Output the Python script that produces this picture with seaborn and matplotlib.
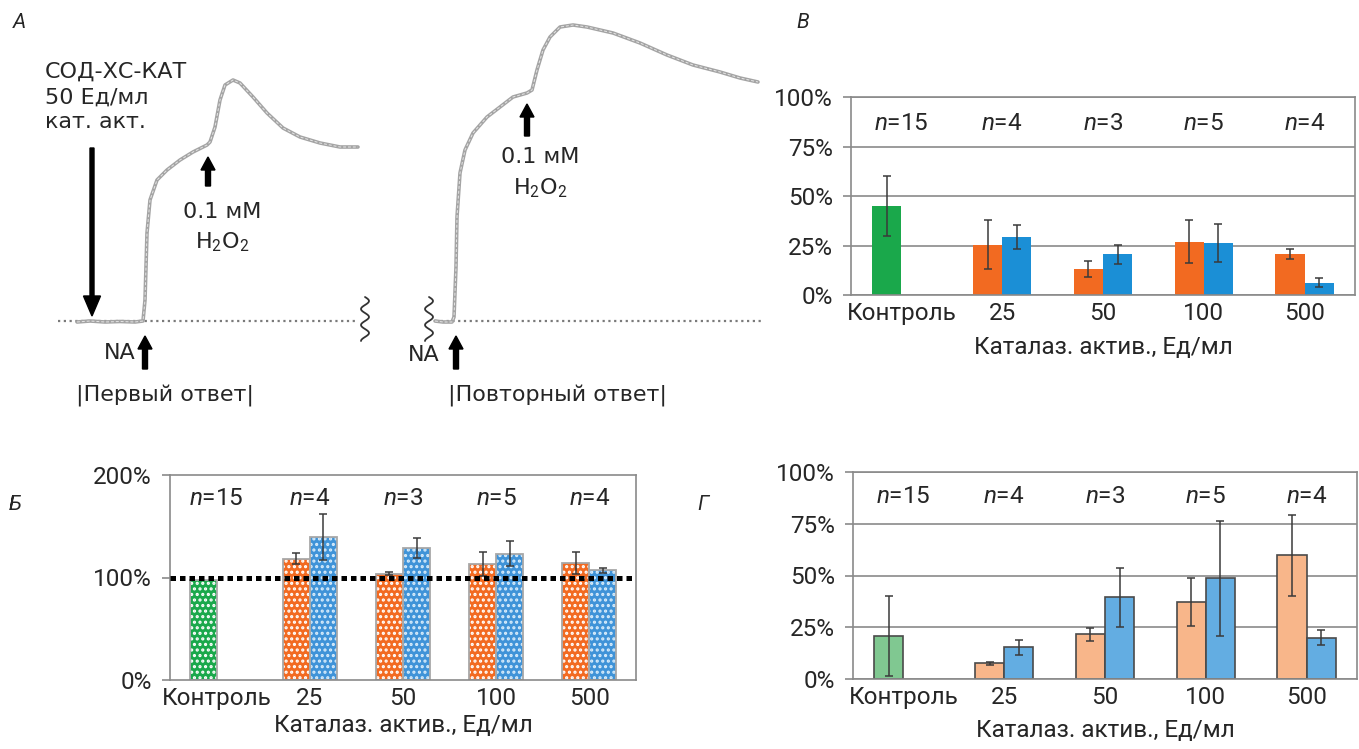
import numpy as np
import pandas as pd
import matplotlib
matplotlib.use("Agg")
import matplotlib.pyplot as plt
import seaborn as sns
from matplotlib.patches import Rectangle
from matplotlib.ticker import PercentFormatter

# ------------------------------------------------------------------ data
categories = ["Контроль", "25", "50", "100", "500"]
n_labels = ["15", "4", "3", "5", "4"]
series_names = ["first", "second"]

# panel В (top right)
v_first = [45.0, 25.5, 13.1, 26.9, 20.7]
v_first_err = [15.3, 12.3, 4.0, 10.8, 2.4]
v_second = [np.nan, 29.2, 20.7, 26.2, 6.2]
v_second_err = [np.nan, 6.0, 4.8, 9.5, 2.3]

# panel Б (bottom left)
b_first = [98.0, 118.5, 103.9, 113.0, 114.3]
b_first_err = [0.0, 5.7, 1.0, 11.4, 11.0]
b_second = [np.nan, 139.6, 128.9, 123.4, 107.0]
b_second_err = [np.nan, 22.7, 9.6, 12.5, 2.5]
b_reference = 100.0

# panel Г (bottom right)
g_first = [20.9, 7.6, 21.5, 37.3, 59.8]
g_first_err = [19.3, 0.7, 3.2, 11.6, 19.5]
g_second = [np.nan, 15.3, 39.4, 48.6, 19.9]
g_second_err = [np.nan, 3.6, 14.4, 27.8, 3.7]

# panel А traces (time, signal; arbitrary units)
trace1_t = [77, 90, 105, 120, 135, 143, 145, 146, 147, 150, 157, 167, 180, 193, 207,
            210, 215, 220, 225, 233, 240, 253, 267, 283, 300, 320, 340, 358]
trace1_v = [-1, 0, -1, -0.5, -1, 0, 21, 54, 88, 121, 141, 151, 161, 169, 176,
            179, 194, 221, 236, 241, 238, 224, 208, 193, 184, 178, 174, 174]
trace2_t = [435, 443, 452, 454, 456, 457, 460, 465, 473, 487, 500, 513, 527, 532, 537,
            543, 550, 560, 573, 587, 613, 640, 667, 693, 720, 740, 758]
trace2_v = [0, -1, -1, 4, 54, 104, 148, 171, 188, 204, 214, 224, 228, 231, 251,
            271, 284, 294, 296, 294, 288, 278, 266, 256, 249, 243, 239]
baseline1_t = [58, 358]
baseline2_t = [435, 763]

# ------------------------------------------------------------------ style
sns.set_style("white")
plt.rcParams["font.family"] = ["Roboto", "DejaVu Sans"]
plt.rcParams["mathtext.fontset"] = "custom"
plt.rcParams["mathtext.rm"] = "Roboto"
plt.rcParams["mathtext.it"] = "Roboto:italic"
plt.rcParams["mathtext.bf"] = "Roboto:bold"
plt.rcParams["hatch.linewidth"] = 1.5

W, H = 1359, 749
fig = plt.figure(figsize=(W / 100, H / 100), dpi=100)

GRAY = "#8a8a8a"
FS = 17.5

def axes_px(left, top, right, bottom):
    return fig.add_axes([left / W, 1 - bottom / H, (right - left) / W, (bottom - top) / H])

# ------------------------------------------------------------------ panel А
BASE = 321
axA = axes_px(0, 0, 790, 430)
axA.set_xlim(0, 790)
axA.set_ylim(BASE - 430, BASE)
axA.axis("off")
axA.patch.set_alpha(0)

def Y(ypx):
    return BASE - ypx

for bt in (baseline1_t, baseline2_t):
    axA.plot(bt, [0, 0], color="#7a7a7a", lw=1.6, linestyle=(0, (1, 1.6)))
for tt, vv in ((trace1_t, trace1_v), (trace2_t, trace2_v)):
    sns.lineplot(x=tt, y=vv, sort=False, estimator=None, color="#a4a4a4", lw=2.6, ax=axA)
    sns.lineplot(x=tt, y=vv, sort=False, estimator=None, color="#e6e6e6", lw=0.7,
                 linestyle=(0, (3, 2)), ax=axA)

# break marks
ys = np.linspace(297, 341, 60)
for xc in (365, 429):
    axA.plot(xc + 4 * np.sin(2 * np.pi * (ys - 297) / 16), Y(ys), color="#333333", lw=1.3)

fsA = 16
famA = ["DejaVu Sans"]
axA.text(45, Y(72), "СОД-ХС-КАТ", fontsize=fsA, ha="left", va="center", family=famA)
axA.text(45, Y(98), "50 Ед/мл", fontsize=fsA, ha="left", va="center", family=famA)
axA.text(45, Y(122), "кат. акт.", fontsize=fsA, ha="left", va="center", family=famA)
axA.arrow(92, Y(148), 0, -(316 - 148), width=4, head_width=17, head_length=20,
          length_includes_head=True, fc="k", ec="k")

def up_arrow(x, y0, y1):
    axA.arrow(x, Y(y0), 0, y0 - y1, width=5, head_width=14, head_length=13,
              length_includes_head=True, fc="k", ec="k")

up_arrow(145, 369, 336)
axA.text(120, Y(353), "NA", fontsize=fsA, ha="center", va="center", family=famA)
up_arrow(208, 186, 157)
axA.text(222, Y(212), "0.1 мМ", fontsize=fsA, ha="center", va="center", family=famA)
axA.text(222, Y(242), "H$_2$O$_2$", fontsize=fsA, ha="center", va="center", family=famA)
axA.text(165, Y(396), "|Первый ответ|", fontsize=fsA, ha="center", va="center", family=famA)

up_arrow(456, 369, 336)
axA.text(424, Y(355), "NA", fontsize=fsA, ha="center", va="center", family=famA)
up_arrow(527, 136, 104)
axA.text(540, Y(157), "0.1 мМ", fontsize=fsA, ha="center", va="center", family=famA)
axA.text(540, Y(188), "H$_2$O$_2$", fontsize=fsA, ha="center", va="center", family=famA)
axA.text(558, Y(396), "|Повторный ответ|", fontsize=fsA, ha="center", va="center", family=famA)

# ------------------------------------------------------------------ bar panels
def bar_panel(ax, first, first_err, second, second_err, colors, ctrl_color,
              ymax, yticks, n_y, grid=True, edge=None, edge_lw=0):
    df = pd.DataFrame({
        "cat": categories * 2,
        "series": [series_names[0]] * 5 + [series_names[1]] * 5,
        "value": list(first) + list(second),
    }).dropna()
    errs = {0: first_err, 1: second_err}
    sns.barplot(data=df, x="cat", y="value", hue="series", order=categories,
                hue_order=series_names, palette=colors, width=0.58, errorbar=None,
                saturation=1, legend=False, ax=ax,
                edgecolor=edge if edge else "none", linewidth=edge_lw)
    xs, hs, es = [], [], []
    for p in ax.patches:
        xc = p.get_x() + p.get_width() / 2
        idx = int(round(xc))
        side = 0 if xc < idx else 1
        if idx == 0:
            p.set_facecolor(ctrl_color)
        e = errs[side][idx]
        if e and not np.isnan(e) and e > 0:
            xs.append(xc); hs.append(p.get_height()); es.append(e)
    ax.errorbar(xs, hs, yerr=es, fmt="none", ecolor="#3a3a3a", elinewidth=1.1,
                capsize=3, capthick=1.1, zorder=6)
    ax.set_xlim(-0.5, 4.5)
    ax.set_ylim(0, ymax)
    ax.set_yticks(yticks)
    ax.yaxis.set_major_formatter(PercentFormatter(xmax=100, decimals=0))
    ax.set_xticks(range(5))
    ax.set_xticklabels(categories)
    ax.set_xticks(np.arange(-0.5, 5, 1), minor=True)
    ax.tick_params(axis="x", which="major", length=0, pad=5, labelsize=FS)
    ax.tick_params(axis="x", which="minor", length=6, width=1.2, color=GRAY, direction="out")
    ax.tick_params(axis="y", length=6, width=1.2, color=GRAY, direction="out", pad=7,
                   labelsize=FS, left=True)
    for s in ax.spines.values():
        s.set_visible(True)
        s.set_color(GRAY)
        s.set_linewidth(1.2)
    if grid:
        ax.yaxis.grid(True, color=GRAY, lw=1.2)
    ax.set_axisbelow(True)
    ax.set_ylabel("")
    for i, n in enumerate(n_labels):
        ax.text(i, n_y, f"$n$={n}", ha="center", va="center", fontsize=FS)

# panel В
axV = axes_px(851, 97, 1355, 295)
bar_panel(axV, v_first, v_first_err, v_second, v_second_err,
          ["#f26a21", "#1b8fd6"], "#1aa84b", 100, [0, 25, 50, 75, 100], 86.7)
axV.set_xlabel("Каталаз. актив., Ед/мл", fontsize=FS, labelpad=8)

# panel Б (patterned bars)
axB = axes_px(170, 475, 636, 680)
bar_panel(axB, b_first, b_first_err, b_second, b_second_err,
          ["#f26a21", "#3f93d8"], "#1aa84b", 200, [0, 100, 200], 177.5, grid=False)
for p in list(axB.patches):
    fc = matplotlib.colors.to_hex(p.get_facecolor())
    hc = "#d8ecfb" if fc == "#3f93d8" else "white"
    p.set_hatch("...")
    p.set_edgecolor(hc)
    p.set_linewidth(0)
    axB.add_patch(Rectangle((p.get_x(), p.get_y()), p.get_width(), p.get_height(),
                            fill=False, ec="#a8a8a8", lw=1.3, zorder=p.get_zorder() + 0.1))
axB.axhline(b_reference, color="black", lw=3.6, linestyle=(0, (1.1, 0.8)),
            dash_capstyle="butt", zorder=7)
axB.set_xlabel("Каталаз. актив., Ед/мл", fontsize=FS, labelpad=3)

# panel Г
axG = axes_px(853, 472, 1357, 679)
bar_panel(axG, g_first, g_first_err, g_second, g_second_err,
          ["#f8b68a", "#63ade2"], "#80c891", 100, [0, 25, 50, 75, 100], 88.4,
          edge="#4a4a4a", edge_lw=1.2)
axG.set_xlabel("Каталаз. актив., Ед/мл", fontsize=FS, labelpad=7)

# panel letters
for txt, x, y in (("А", 19, 22), ("В", 803, 22), ("Б", 15, 505), ("Г", 703, 505)):
    fig.text(x / W, 1 - y / H, txt, fontsize=15, style="italic", ha="center", va="center")

fig.savefig("out.png", dpi=100)
